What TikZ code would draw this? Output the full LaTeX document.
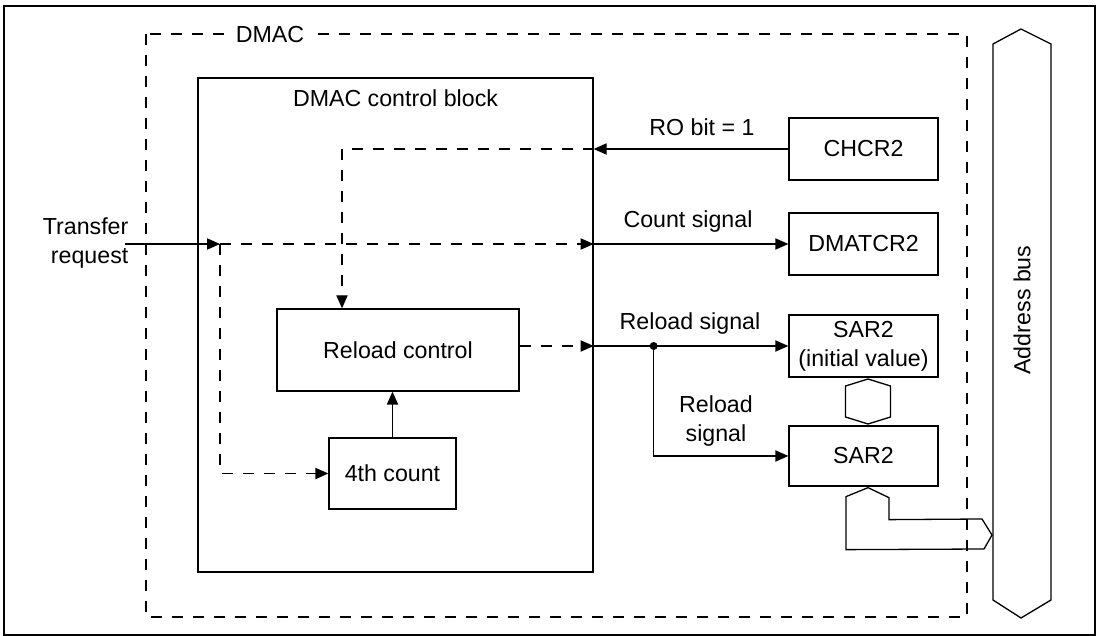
\documentclass[tikz,border=0pt]{standalone}
\usepackage{fontspec}
\setmainfont{Liberation Sans}
\usetikzlibrary{arrows.meta,calc}

\begin{document}
\begin{tikzpicture}[x=0.5pt,y=-0.5pt,line width=0.65pt,
  font=\fontsize{11.6}{14.5}\selectfont]

% --------------------
% Parameters (tweak these)
% --------------------
\def\regW{74.5pt}  % register box width
\def\regH{31pt}    % register box height
\def\dotR{2pt}     % junction dot radius
\def\hexH{22.5}    % half height of the small bus hexagon
\def\hexW{22.5}    % half width of the small bus hexagon

\tikzset{
  arrow/.style={-{Triangle[length=6.5pt,width=5.6pt]}},
  dsh/.style={dash pattern=on 5.5pt off 5pt},
  reg/.style={draw, minimum width=\regW, minimum height=\regH, inner sep=0pt, align=center},
  blk/.style={draw, inner sep=0pt, align=center}
}

\useasboundingbox (0,0) rectangle (1100,636);
\draw[line width=1.2pt] (4,6) rectangle (1095,635);

% --------------------
% DMAC (dashed) and control block
% --------------------
\draw[dsh] (146,34) rectangle (967,617);
\node[fill=white, inner sep=3pt] (dmac) at (270,35) {DMAC};

\node[blk, minimum width=197.5pt, minimum height=247pt] (ctrl) at (395.5,325) {};
\node (ctrltitle) at (395.5,98) {DMAC control block};

\node[blk, minimum width=121pt, minimum height=41pt] (reload) at (398,350) {Reload control};
\node[blk, minimum width=63.5pt, minimum height=35.5pt] (cnt) at (392.5,473.5) {4th count};

% --------------------
% Registers
% --------------------
\node[reg] (chcr) at (863.5,149) {CHCR2};
\node[reg] (dmatcr) at (863.5,244) {DMATCR2};
\node[reg] (sarinit) at (863.5,346) {SAR2\\(initial value)};
\node[reg, minimum height=30pt] (sar) at (863.5,456) {SAR2};

% --------------------
% Address bus
% --------------------
\draw (1021,29) -- (1051,44) -- (1051,600) -- (1021,618) -- (993,600) -- (993,44) -- cycle;
\node[rotate=90] (abus) at (1022,310) {Address bus};

% small bus between the two SAR2 boxes
\coordinate (hx) at ($(sarinit.south)!0.5!(sar.north)+(4.5,0)$);
\draw ($(hx)+(0,-\hexH)$) -- ++(\hexW,7) -- ++(0,31) -- ($(hx)+(0,\hexH)$)
  -- ++(-\hexW,-7) -- ++(0,-31) -- cycle;

% bus from SAR2 to the address bus
\coordinate (sb) at ($(sar.south)+(4.5,1)$);
\draw (sb) -- ++(21,10) -- ++(0,22) -- (982,519) -- (992,535) -- (984,549)
  -- ($(sb)+(-22,62)$) -- ($(sb)+(-22,9)$) -- cycle;

% --------------------
% Signals
% --------------------
\coordinate (treq) at (125,244);
\coordinate (tr) at (220,244);
\node[align=right, anchor=east, inner sep=0pt] (treqlbl) at (129,243) {Transfer\\request};
\draw[arrow] (treq) -- (tr);
\draw[dsh,arrow] (tr) -- (ctrl.east |- tr);
\draw[arrow] (ctrl.east |- tr) -- (dmatcr.west);
\node (cntlbl) at (688,222) {Count signal};
\draw[dsh,arrow] (tr) |- (cnt.west);
\draw[arrow] (cnt.north) -- (cnt.north |- reload.south);

\coordinate (ro) at (ctrl.east |- chcr.west);
\coordinate (rocorner) at (342,149);
\node (rolbl) at (702,127) {RO bit = 1};
\draw[arrow] (chcr.west) -- (ro);
\draw[dsh,arrow] (ro) -- (rocorner) -- (rocorner |- reload.north);

\coordinate (rl) at (ctrl.east |- sarinit.west);
\coordinate (rdot) at ($(rl)+(60,0)$);
\node (rllbl) at (690,324) {Reload signal};
\node[align=center] (rllbl2) at (716,421) {Reload\\signal};
\draw[dsh,arrow] (reload.east |- rl) -- (rl);
\draw[arrow] (rl) -- (sarinit.west);
\draw[arrow] (rdot) |- (sar.west);
\fill (rdot) circle[radius=\dotR];

\end{tikzpicture}
\end{document}
